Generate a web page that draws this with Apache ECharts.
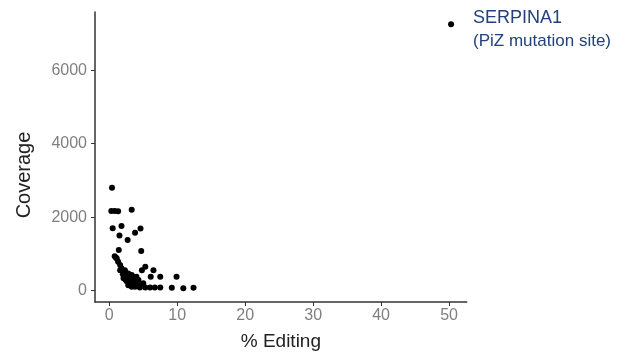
<!DOCTYPE html>
<html><head><meta charset="utf-8">
<script src="https://cdn.jsdelivr.net/npm/echarts@6/dist/echarts.min.js"></script>
<style>html,body{margin:0;padding:0;background:#fff}#c{width:627px;height:358px}</style>
</head><body><div id="c"></div>
<script>
// % Editing values
const editing = [0.4,0.3,0.8,1.3,3.3,0.5,1.8,4.6,3.8,1.5,2.7,1.4,4.7,0.8,1.1,1.3,1.0,
  5.3,6.5,4.8,6.1,7.5,9.9,
  4.5,5.3,6.0,6.7,7.5,9.2,10.9,12.4,
  1.6,1.8,2.1,1.6,2.3,2.6,2.8,3.0,3.3,3.5,3.8,2.1,2.6,3.0,3.5,4.0,4.3,4.5,2.8,3.3,3.8,2.3,4.0,5.0,2.0,3.2,2.4,3.6];
// Coverage values
const coverage = [2800,2170,2170,2160,2200,1700,1760,1690,1580,1500,1380,1110,1080,940,880,790,900,
  650,560,560,380,380,380,
  90,90,90,90,90,80,70,80,
  700,610,520,560,430,380,470,340,430,380,290,340,250,200,250,200,290,150,150,110,110,560,380,200,450,300,300,170];
const highlightPoint = [50.3, 7250];
const highlightName = 'SERPINA1';
const highlightNote = '(PiZ mutation site)';
const xTicks = [0,10,20,30,40,50];
const yTicks = [0,2000,4000,6000];

const pts = editing.map((x,i)=>[x, coverage[i]]);
const chart = echarts.init(document.getElementById('c'));
const axisCol = '#333';
const labCol = '#7f7f7f';
chart.setOption({
  animation:false,
  grid:{left:95, right:160.3, top:12, bottom:56},
  xAxis:{type:'value', min:-2.1, max:52.6,
    axisLine:{onZero:false, lineStyle:{color:axisCol,width:1.5}},
    axisTick:{show:true, customValues:xTicks, length:4, lineStyle:{color:axisCol}},
    axisLabel:{customValues:xTicks, formatter:v=>String(v), color:labCol, fontSize:16, fontFamily:'Liberation Sans', margin:6},
    splitLine:{show:false},
    name:'% Editing', nameLocation:'middle', nameGap:30,
    nameTextStyle:{color:'#222', fontSize:19, fontFamily:'Liberation Sans'}},
  yAxis:{type:'value', min:-307, max:7584,
    axisLine:{onZero:false, lineStyle:{color:axisCol,width:1.5}},
    axisTick:{show:true, customValues:yTicks, length:4, lineStyle:{color:axisCol}},
    axisLabel:{customValues:yTicks, formatter:v=>String(v), color:labCol, fontSize:16, fontFamily:'Liberation Sans', margin:8},
    splitLine:{show:false}},
  graphic:[{type:'text', x:24, y:175, rotation:Math.PI/2,
    style:{text:'Coverage', fill:'#222', fontSize:20, fontFamily:'Liberation Sans', textAlign:'center', textVerticalAlign:'middle'}}],
  series:[
    {type:'scatter', data:pts, symbolSize:6, itemStyle:{color:'#000', opacity:1}},
    {type:'scatter', data:[highlightPoint], symbolSize:6, itemStyle:{color:'#000', opacity:1},
      label:{show:true, position:'right', distance:19, offset:[0,5.5], formatter:'{a|'+highlightName+'}\n{b|'+highlightNote+'}',
        rich:{a:{fontSize:18, color:'#23417a', fontFamily:'Liberation Sans', lineHeight:23},
              b:{fontSize:17, color:'#23417a', fontFamily:'Liberation Sans', lineHeight:23}}}}
  ]
});
</script></body></html>
